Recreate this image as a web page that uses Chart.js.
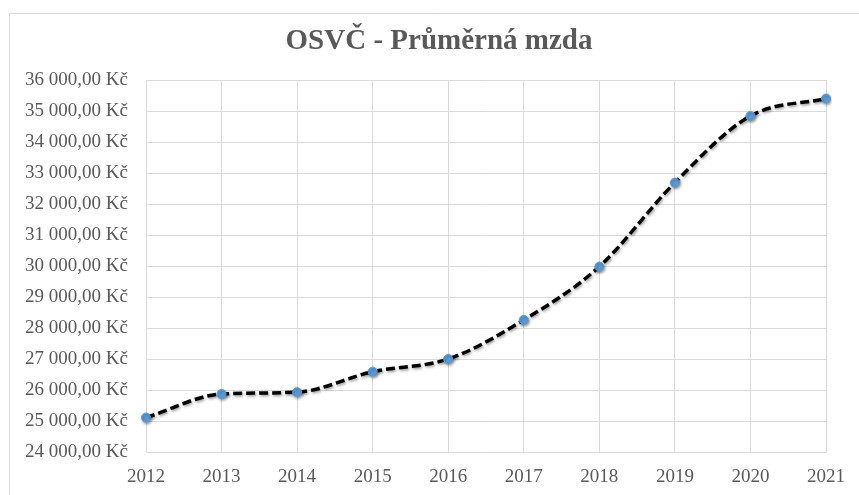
<!DOCTYPE html>
<html>
<head>
<meta charset="utf-8">
<script src="https://cdn.jsdelivr.net/npm/chart.js@4/dist/chart.umd.min.js"></script>
<style>
  html, body { margin: 0; padding: 0; background: #ffffff; }
  #wrap { position: relative; width: 859px; height: 495px; }
</style>
</head>
<body>
<div id="wrap"><canvas id="c" width="859" height="495"></canvas></div>
<script>
const chartTitle = 'OSVČ - Průměrná mzda';
const years = ['2012','2013','2014','2015','2016','2017','2018','2019','2020','2021'];
const avgWage = [25110, 25870, 25930, 26590, 27000, 28260, 29980, 32690, 34840, 35400];
const yMin = 24000;
const yMax = 36000;
const yStep = 1000;

function formatKc(v) {
  const s = Math.round(v).toString().replace(/\B(?=(\d{3})+(?!\d))/g, ' ');
  return s + ',00 Kč';
}

const gray = '#595959';
const font = 'Liberation Serif, Times New Roman, serif';

const frame = {
  id: 'frame',
  beforeDraw(chart) {
    const ctx = chart.ctx;
    ctx.save();
    ctx.strokeStyle = '#d9d9d9';
    ctx.lineWidth = 1;
    ctx.beginPath();
    ctx.moveTo(9.5, 495);
    ctx.lineTo(9.5, 13.5);
    ctx.lineTo(859, 13.5);
    ctx.stroke();
    ctx.restore();
  },
  afterDraw(chart) {
    const ctx = chart.ctx;
    ctx.save();
    ctx.fillStyle = gray;
    ctx.font = 'bold 29px ' + font;
    ctx.textAlign = 'center';
    ctx.textBaseline = 'middle';
    ctx.fillText(chartTitle, 439, 42);
    ctx.restore();
  }
};

const shadow = {
  id: 'shadow',
  beforeDatasetDraw(chart) {
    const ctx = chart.ctx;
    ctx.save();
    ctx.shadowColor = 'rgba(0,0,0,0.4)';
    ctx.shadowBlur = 3;
    ctx.shadowOffsetX = 1;
    ctx.shadowOffsetY = 1.5;
  },
  afterDatasetDraw(chart) {
    chart.ctx.restore();
  }
};

new Chart(document.getElementById('c'), {
  type: 'line',
  data: {
    labels: years,
    datasets: [{
      data: avgWage,
      borderColor: '#000000',
      borderWidth: 3.5,
      borderDash: [9, 4],
      cubicInterpolationMode: 'monotone',
      pointRadius: 4.5,
      pointBackgroundColor: '#5B9BD5',
      pointBorderColor: '#5B9BD5',
      pointBorderWidth: 1,
      fill: false
    }]
  },
  options: {
    responsive: false,
    animation: false,
    layout: { padding: { left: 0, right: 28, top: 80, bottom: 0 } },
    plugins: {
      legend: { display: false },
      tooltip: { enabled: false },
      title: { display: false }
    },
    scales: {
      x: {
        offset: false,
        grid: { color: '#d9d9d9', lineWidth: 1, drawTicks: false },
        border: { color: '#d9d9d9' },
        afterFit(scale) { scale.height = 43; },
        ticks: { color: gray, font: { family: font, size: 19 }, padding: 14, maxRotation: 0 }
      },
      y: {
        min: yMin,
        max: yMax,
        grid: { color: '#d9d9d9', lineWidth: 1, drawTicks: false },
        border: { color: '#d9d9d9' },
        afterFit(scale) { scale.width = 146; },
        ticks: {
          stepSize: yStep,
          color: gray,
          font: { family: font, size: 19 },
          padding: 18,
          callback: (v) => formatKc(v)
        }
      }
    }
  },
  plugins: [frame, shadow]
});
</script>
</body>
</html>
